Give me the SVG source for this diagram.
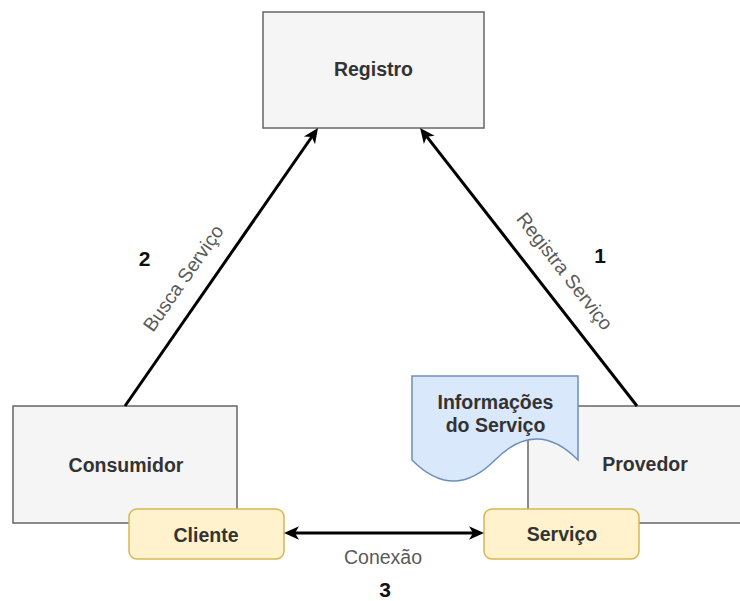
<svg xmlns="http://www.w3.org/2000/svg" width="740" height="601" viewBox="0 0 740 601">
  <style>
    .box { fill: #f5f5f5; stroke: #666666; stroke-width: 1.5; }
    .comp { fill: #fff2cc; stroke: #d6b656; stroke-width: 1.5; }
    .doc { fill: #dae8fc; stroke: #6c8ebf; stroke-width: 1.5; }
    .label { font-family: "Liberation Sans", Arial, sans-serif; font-size: 19.5px; font-weight: bold; fill: #333333; text-anchor: middle; }
    .edge-label { font-family: "Liberation Sans", Arial, sans-serif; font-size: 19.5px; fill: #5a5a5a; text-anchor: middle; }
    .step { font-family: "Liberation Sans", Arial, sans-serif; font-size: 21px; font-weight: bold; fill: #111111; text-anchor: middle; }
    .edge { fill: none; stroke: #000000; stroke-width: 3; marker-end: url(#arrow); }
  </style>
  <defs>
    <!-- classic arrowhead; reference point sits at the notch -->
    <marker id="arrow" viewBox="-5 -8 17 16" refX="0" refY="0" markerWidth="17" markerHeight="16" markerUnits="userSpaceOnUse" orient="auto-start-reverse">
      <path d="M11,0 L-4,-6.8 L0,0 L-4,6.8 Z" fill="#000000"/>
    </marker>
  </defs>

  <rect width="740" height="601" fill="#ffffff"/>

  <g id="registro">
    <rect class="box" x="263" y="12" width="221" height="116"/>
    <text class="label" x="373.5" y="76">Registro</text>
  </g>

  <g id="consumidor">
    <rect class="box" x="13" y="406" width="224" height="117"/>
    <text class="label" x="126" y="472">Consumidor</text>
  </g>

  <g id="provedor">
    <rect class="box" x="528" y="406" width="234" height="117"/>
    <text class="label" x="645" y="471">Provedor</text>
  </g>

  <g id="informacoes">
    <path class="doc" d="M412,376 L578,376 L578,460 Q536.5,418 495,460 Q453.5,502 412,460 Z"/>
    <text class="label" x="495.5" y="409">Informações</text>
    <text class="label" x="495.5" y="432">do Serviço</text>
  </g>

  <g id="cliente">
    <rect class="comp" x="129" y="509" width="155" height="50" rx="8"/>
    <text class="label" x="206" y="542">Cliente</text>
  </g>

  <g id="servico">
    <rect class="comp" x="484" y="509" width="155" height="50" rx="8"/>
    <text class="label" x="562" y="541">Serviço</text>
  </g>

  <g id="connectors">
    <!-- Consumidor looks up the service in Registro -->
    <line class="edge" x1="125" y1="406" x2="311.7" y2="137"/>
    <!-- Provedor publishes the service to Registro -->
    <line class="edge" x1="637" y1="406" x2="426.8" y2="136.7"/>
    <!-- Cliente <-> Serviço connection -->
    <line class="edge" x1="295" y1="533" x2="473" y2="533" marker-start="url(#arrow)"/>

    <text class="edge-label" transform="translate(183,278) rotate(-55)" y="7">Busca Serviço</text>
    <text class="edge-label" transform="translate(565,271) rotate(52)" y="7">Registra Serviço</text>
    <text class="edge-label" x="383" y="564">Conexão</text>

    <text class="step" x="144.5" y="266">2</text>
    <text class="step" x="600" y="263">1</text>
    <text class="step" x="385" y="597">3</text>
  </g>
</svg>
